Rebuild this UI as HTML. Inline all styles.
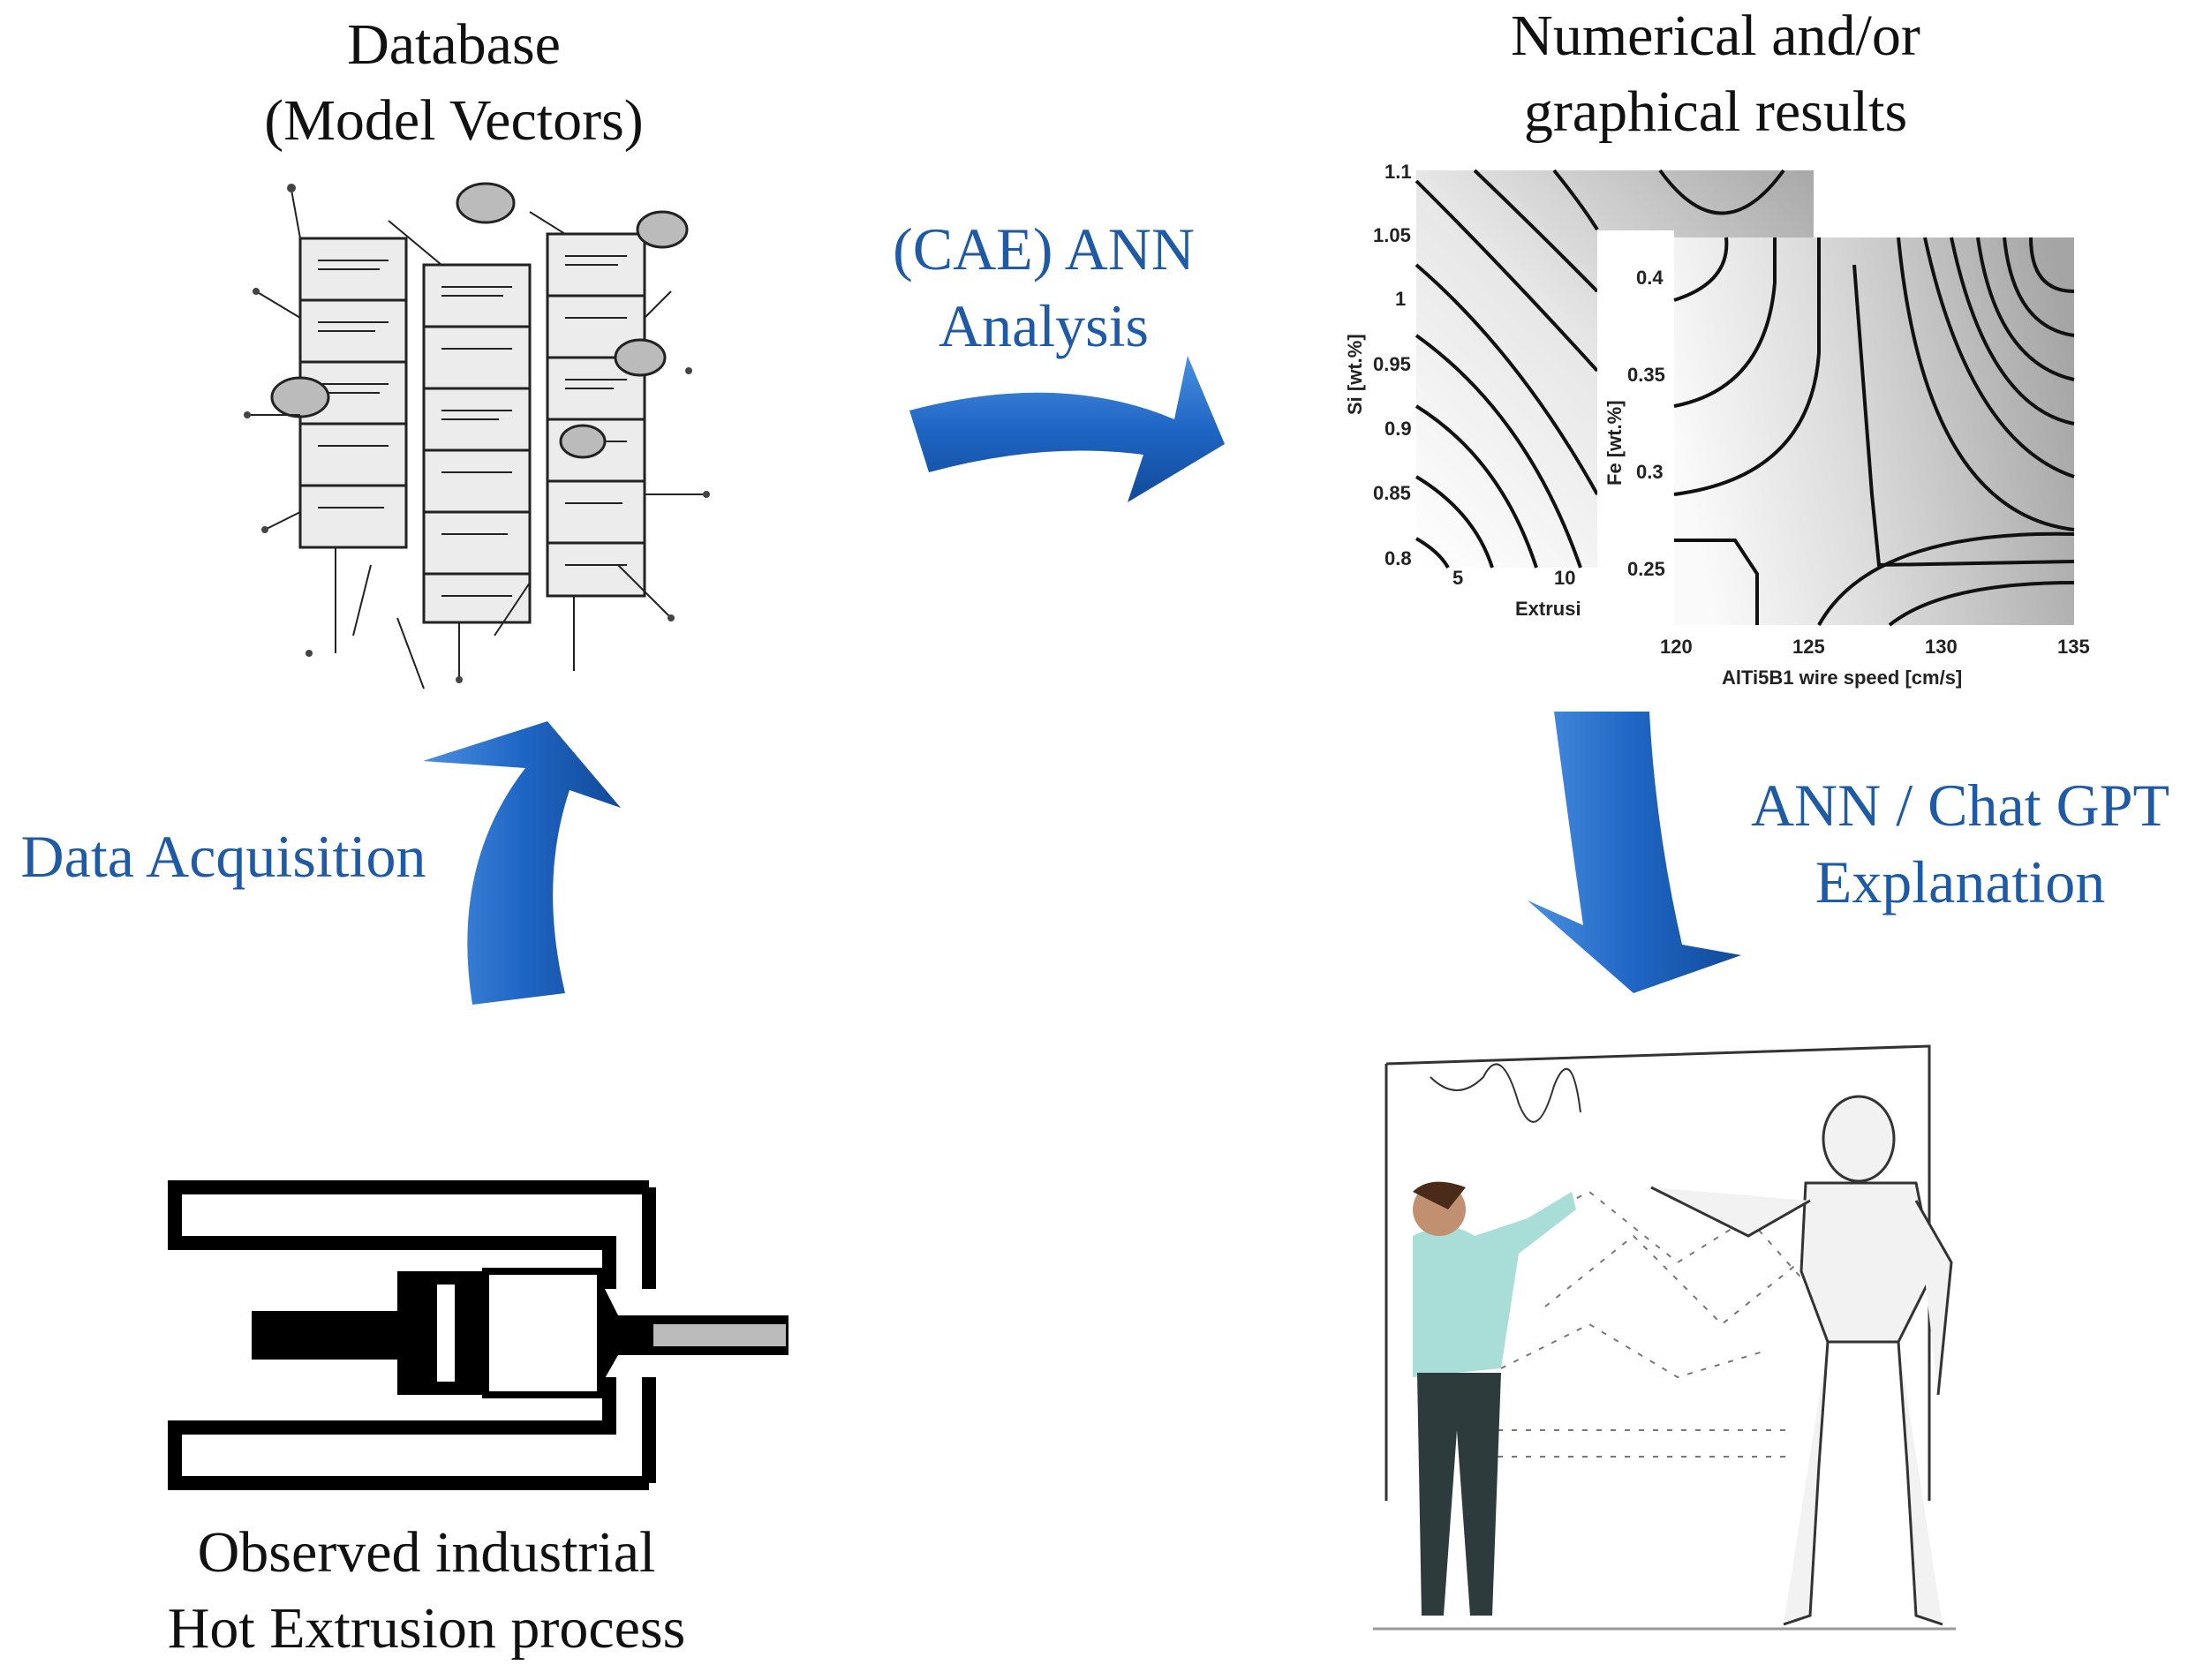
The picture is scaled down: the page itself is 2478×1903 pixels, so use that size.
<!DOCTYPE html>
<html><head><meta charset="utf-8"><style>
html,body{margin:0;padding:0;background:#fff}
svg{display:block}
.t{font-family:"Liberation Serif",serif;font-size:66px;fill:#111;text-anchor:middle}
.b{font-family:"Liberation Serif",serif;font-size:68px;fill:#1f5aa6;text-anchor:middle}
.ax{font-family:"Liberation Sans",sans-serif;font-size:22px;font-weight:bold;fill:#222}
</style></head><body>
<svg width="2478" height="1903" viewBox="0 0 2478 1903" xmlns="http://www.w3.org/2000/svg">
<defs>
<linearGradient id="bl" x1="0" y1="0" x2="0" y2="1">
<stop offset="0" stop-color="#4a8fe0"/><stop offset="0.5" stop-color="#1f66c4"/><stop offset="1" stop-color="#114a99"/></linearGradient>
<linearGradient id="bl2" x1="0" y1="0" x2="1" y2="0">
<stop offset="0" stop-color="#4a8fe0"/><stop offset="0.5" stop-color="#1f66c4"/><stop offset="1" stop-color="#114a99"/></linearGradient>
<linearGradient id="gL" x1="0" y1="1" x2="1" y2="0">
<stop offset="0" stop-color="#fff"/><stop offset="0.5" stop-color="#e6e6e6"/><stop offset="1" stop-color="#a8a8a8"/></linearGradient>
<linearGradient id="gR" x1="0" y1="0.5" x2="1" y2="0.3">
<stop offset="0" stop-color="#fafafa"/><stop offset="0.4" stop-color="#dcdcdc"/><stop offset="1" stop-color="#a5a5a5"/></linearGradient>
</defs>

<text class="t" x="514" y="72">Database</text>
<text class="t" x="514" y="158">(Model Vectors)</text>
<text class="t" x="1943" y="62">Numerical and/or</text>
<text class="t" x="1943" y="148">graphical results</text>
<text class="b" x="1182" y="305">(CAE) ANN</text>
<text class="b" x="1182" y="392">Analysis</text>
<text class="b" x="2220" y="935">ANN / Chat GPT</text>
<text class="b" x="2220" y="1022">Explanation</text>
<text class="b" x="253" y="993">Data Acquisition</text>
<text class="t" x="483" y="1780">Observed industrial</text>
<text class="t" x="483" y="1866">Hot Extrusion process</text>

<!-- Database sketch -->
<g stroke="#222" fill="none" stroke-width="3">
<g fill="#ececec">
<rect x="340" y="270" width="120" height="70"/><rect x="340" y="340" width="120" height="70"/><rect x="340" y="410" width="120" height="70"/><rect x="340" y="480" width="120" height="70"/><rect x="340" y="550" width="120" height="70"/>
<rect x="480" y="300" width="120" height="70"/><rect x="480" y="370" width="120" height="70"/><rect x="480" y="440" width="120" height="70"/><rect x="480" y="510" width="120" height="70"/><rect x="480" y="580" width="120" height="70"/><rect x="480" y="650" width="120" height="55"/>
<rect x="620" y="265" width="110" height="70"/><rect x="620" y="335" width="110" height="70"/><rect x="620" y="405" width="110" height="70"/><rect x="620" y="475" width="110" height="70"/><rect x="620" y="545" width="110" height="70"/><rect x="620" y="615" width="110" height="60"/>
</g>
<path d="M360 295 H440 M360 305 H430 M360 365 H440 M360 375 H425 M360 435 H440 M360 445 H430 M360 505 H440 M360 575 H435 M500 325 H580 M500 335 H570 M500 395 H580 M500 465 H580 M500 475 H565 M500 535 H580 M500 605 H575 M500 675 H580 M640 290 H710 M640 300 H700 M640 360 H710 M640 430 H710 M640 440 H695 M640 500 H710 M640 570 H705 M640 640 H710" stroke-width="2"/>
<g fill="#bbb"><ellipse cx="550" cy="230" rx="32" ry="22"/><ellipse cx="750" cy="260" rx="28" ry="20"/><ellipse cx="340" cy="450" rx="32" ry="22"/><ellipse cx="725" cy="405" rx="28" ry="20"/><ellipse cx="660" cy="500" rx="25" ry="18"/></g>
<path d="M330 215 L340 270 M600 240 L640 265 M290 330 L340 360 M760 330 L730 360 M300 600 L340 580 M600 660 L560 720 M420 640 L400 720 M700 640 L760 700 M440 250 L500 300 M380 620 L380 740 M520 705 L520 770 M650 675 L650 760 M730 560 L800 560 M280 470 L340 470 M450 700 L480 780" stroke-width="2"/>
</g>
<g fill="#444"><circle cx="330" cy="213" r="5"/><circle cx="290" cy="330" r="4"/><circle cx="760" cy="700" r="4"/><circle cx="350" cy="740" r="4"/><circle cx="780" cy="420" r="4"/><circle cx="300" cy="600" r="4"/><circle cx="800" cy="560" r="4"/><circle cx="280" cy="470" r="4"/><circle cx="520" cy="770" r="4"/></g>

<path d="M1030 465 Q1200 420 1330 475 L1345 403 L1387 503 L1277 569 L1295 515 Q1180 500 1052 535 Z" fill="url(#bl)"/>
<path d="M535 1138 Q510 980 595 870 L479 862 L620 817 L703 915 L645 895 Q610 1000 640 1125 Z" fill="url(#bl2)"/>
<path d="M1760 806 L1868 806 Q1875 940 1905 1070 L1972 1082 L1850 1125 L1730 1020 L1793 1048 Q1775 920 1760 806 Z" fill="url(#bl2)"/>

<!-- Charts -->
<rect x="1604" y="193" width="450" height="450" fill="url(#gL)"/>
<g stroke="#111" stroke-width="4" fill="none">
<path d="M1604 205 Q1700 300 1809 420"/><path d="M1604 300 Q1720 400 1809 560"/><path d="M1604 380 Q1730 470 1790 643"/><path d="M1604 460 Q1700 520 1740 643"/><path d="M1604 540 Q1670 580 1690 643"/><path d="M1604 610 Q1630 625 1640 643"/><path d="M1670 193 Q1740 260 1809 330"/><path d="M1760 193 Q1790 230 1809 260"/><path d="M1880 193 Q1950 290 2020 193"/>
</g>
<rect x="1809" y="261" width="87" height="450" fill="#fff"/>
<rect x="1896" y="269" width="453" height="439" fill="url(#gR)"/>
<g stroke="#111" stroke-width="4" fill="none">
<path d="M1896 340 Q1960 320 1955 269"/><path d="M1896 460 Q2000 440 2010 320 L2010 269"/><path d="M1896 560 Q2050 540 2060 400 L2060 269"/><path d="M1896 612 L1965 612 L1990 650 L1990 708"/>
<path d="M2100 300 L2120 560 L2128 640 L2349 636"/>
<path d="M2150 269 Q2180 580 2349 600"/><path d="M2180 269 Q2230 500 2349 540"/><path d="M2210 269 Q2250 460 2349 480"/><path d="M2240 269 Q2260 410 2349 430"/><path d="M2270 269 Q2280 370 2349 380"/><path d="M2300 269 Q2300 330 2349 330"/>
<path d="M2060 708 Q2120 600 2349 605"/><path d="M2140 708 Q2200 660 2349 660"/>
</g>
<g class="ax">
<text x="1568" y="202">1.1</text><text x="1555" y="274">1.05</text><text x="1580" y="346">1</text><text x="1555" y="420">0.95</text><text x="1568" y="493">0.9</text><text x="1555" y="566">0.85</text><text x="1568" y="640">0.8</text>
<text x="1645" y="662">5</text><text x="1760" y="662">10</text><text x="1716" y="697">Extrusi</text>
<text x="1853" y="322">0.4</text><text x="1843" y="432">0.35</text><text x="1853" y="542">0.3</text><text x="1843" y="652">0.25</text>
<text x="1880" y="740">120</text><text x="2030" y="740">125</text><text x="2180" y="740">130</text><text x="2330" y="740">135</text>
<text x="1950" y="775">AlTi5B1 wire speed [cm/s]</text>
<text transform="translate(1542,470) rotate(-90)">Si [wt.%]</text>
<text transform="translate(1836,550) rotate(-90)">Fe [wt.%]</text>
</g>

<!-- Extrusion -->
<g fill="none" stroke="#000" stroke-width="16">
<path d="M735 1345 L198 1345 L198 1408 L690 1408 L690 1460"/>
<path d="M735 1345 L735 1460"/>
<path d="M735 1680 L198 1680 L198 1617 L690 1617 L690 1560"/>
<path d="M735 1680 L735 1560"/>
</g>
<rect x="285" y="1485" width="170" height="55" fill="#000"/>
<rect x="450" y="1440" width="100" height="140" fill="#000"/>
<rect x="495" y="1455" width="20" height="110" fill="#fff"/>
<rect x="550" y="1440" width="130" height="140" fill="#fff" stroke="#000" stroke-width="8"/>
<path d="M680 1450 L700 1490 L893 1490 L893 1535 L700 1535 L680 1570 Z" fill="#000"/>
<rect x="740" y="1500" width="150" height="25" fill="#bbb"/>

<!-- Robot scene -->
<g stroke="#333" stroke-width="3" fill="none">
<path d="M1570 1205 L1570 1700 M1570 1205 L2185 1185 L2185 1700"/>
<path d="M1620 1220 Q1650 1250 1680 1220 Q1700 1180 1720 1250 Q1740 1300 1760 1230 Q1780 1180 1790 1260" stroke-width="2"/>
<path d="M1700 1400 L1800 1350 L1900 1430 L1980 1380 L2060 1470 M1750 1480 L1850 1400 L1950 1500 L2050 1420 M1700 1550 L1800 1500 L1900 1560 L2000 1530 M1680 1620 H2030 M1680 1650 H2030" stroke="#777" stroke-width="2" stroke-dasharray="6 10"/>
</g>
<path d="M1600 1400 Q1640 1380 1670 1400 L1730 1380 L1780 1350 L1785 1370 L1720 1420 L1700 1550 L1600 1560 Z" fill="#a9ddd8"/>
<circle cx="1630" cy="1370" r="30" fill="#c09070"/>
<path d="M1600 1350 Q1620 1330 1660 1345 L1640 1370 Z" fill="#4a2b1a"/>
<path d="M1605 1555 L1700 1555 L1690 1830 L1665 1830 L1650 1620 L1635 1830 L1610 1830 Z" fill="#2e3b3c"/>
<g fill="#f2f2f2" stroke="#333" stroke-width="3">
<ellipse cx="2105" cy="1290" rx="40" ry="48"/>
<path d="M2045 1340 L2170 1340 L2190 1440 L2150 1520 L2070 1520 L2040 1440 Z"/>
<path d="M2050 1360 L1980 1400 L1900 1360 L1870 1345"/>
<path d="M2170 1360 L2210 1430 L2195 1580"/>
<path d="M2070 1520 L2060 1660 L2050 1830 L2020 1840 M2150 1520 L2160 1660 L2170 1830 L2200 1840"/>
</g>
<line x1="1555" y1="1845" x2="2215" y2="1845" stroke="#999" stroke-width="3"/>
</svg>
</body></html>
